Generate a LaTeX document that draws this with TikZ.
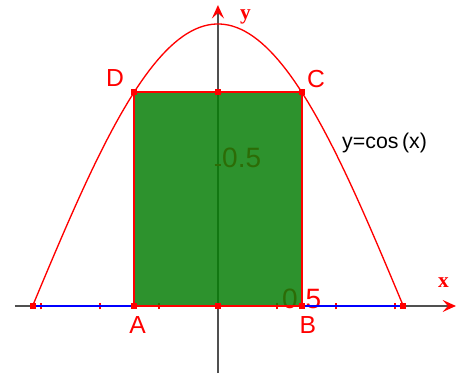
\documentclass[tikz,border=0pt]{standalone}
\usepackage{fontspec}
\setmainfont{Liberation Sans}
\newfontfamily\axisfont{Liberation Serif}
\usetikzlibrary{arrows.meta,positioning}
\definecolor{cosRed}{HTML}{FF0000}
\definecolor{cosBlue}{HTML}{0000FF}
\definecolor{cosFill}{HTML}{087F08}
\definecolor{cosAxis}{HTML}{505050}
\tikzset{
  axis/.style={cosAxis, line width=1.2pt,
    -{Stealth[length=10pt, width=9pt, inset=4pt, color=cosRed]}},
  tickmark/.style={cosRed, line width=1.1pt},
  ticklbl/.style={text=cosRed, font=\fontsize{21}{21}\selectfont, inner sep=0pt},
  ptlabel/.style={text=cosRed, font=\fontsize{18.5}{18.5}\selectfont, inner sep=0pt},
  axislabel/.style={text=cosRed, font=\fontsize{16}{16}\selectfont\axisfont\bfseries, inner sep=0pt},
  funclbl/.style={font=\fontsize{16}{16}\selectfont, inner sep=0pt},
  pt/.style={rectangle, fill=cosRed, minimum size=4.5pt, inner sep=0pt},
  region/.style={fill=cosFill, fill opacity=0.85, draw=cosRed, line width=1.6pt},
  curve/.style={cosRed, line width=1pt},
  domainline/.style={cosBlue, line width=2pt}
}
\begin{document}
\begin{tikzpicture}[x=88.5pt, y=211.5pt]
  \useasboundingbox (-1.847,-0.248) rectangle (2.119,1.085);
  % points
  \coordinate (O) at (0,0);
  \coordinate (L) at ({-pi/2},0);
  \coordinate (R) at ({pi/2},0);
  \coordinate (A) at (-0.71,0);
  \coordinate (B) at (0.71,0);
  \coordinate (D) at (-0.71,{cos(0.71 r)});
  \coordinate (C) at (0.71,{cos(0.71 r)});
  \coordinate (T) at (0,{cos(0.71 r)});
  % axes
  \coordinate (xs) at (-1.720,0);
  \coordinate (xe) at (2.017,0);
  \coordinate (ys) at (0,-0.238);
  \coordinate (ye) at (0,1.067);
  \draw[axis] (xs) -- (xe);
  \draw[axis] (ys) -- (ye);
  \foreach \t in {-1.5,-1,-0.5,0.5,1,1.5}
    \draw[tickmark] (\t,0) ++(0,-2.5pt) -- ++(0,5pt);
  \draw[tickmark] (0,0.5) ++(-2.5pt,0) -- ++(5pt,0);
  \node[ticklbl, anchor=west] (xhalf) at (0.542,0.025) {0.5};
  \node[ticklbl, anchor=west] (yhalf) at (0.034,0.525) {0.5};
  % domain, rectangle, curve
  \draw[domainline] (L) -- (R);
  \draw[region] (A) rectangle (C);
  \draw[curve] plot[domain=-pi/2:pi/2, samples=90] (\x,{cos(\x r)});
  \foreach \p in {L,A,O,B,R,D,T,C}
    \node[pt] (m\p) at (\p) {};
  % labels
  \node[ptlabel, below=7.5pt of A, xshift=2.5pt] (lA) {A};
  \node[ptlabel, below=7.5pt of B, xshift=4.5pt] (lB) {B};
  \node[ptlabel, above left=3.75pt and 7.5pt of D] (lD) {D};
  \node[ptlabel, above right=3pt and 3.75pt of C] (lC) {C};
  \node[funclbl, anchor=west] (fn) at (1.051,0.578) {y=cos\,(x)};
  \node[axislabel] (lx) at (1.911,0.083) {x};
  \node[axislabel] (ly) at (0.233,1.025) {y};
\end{tikzpicture}
\end{document}
